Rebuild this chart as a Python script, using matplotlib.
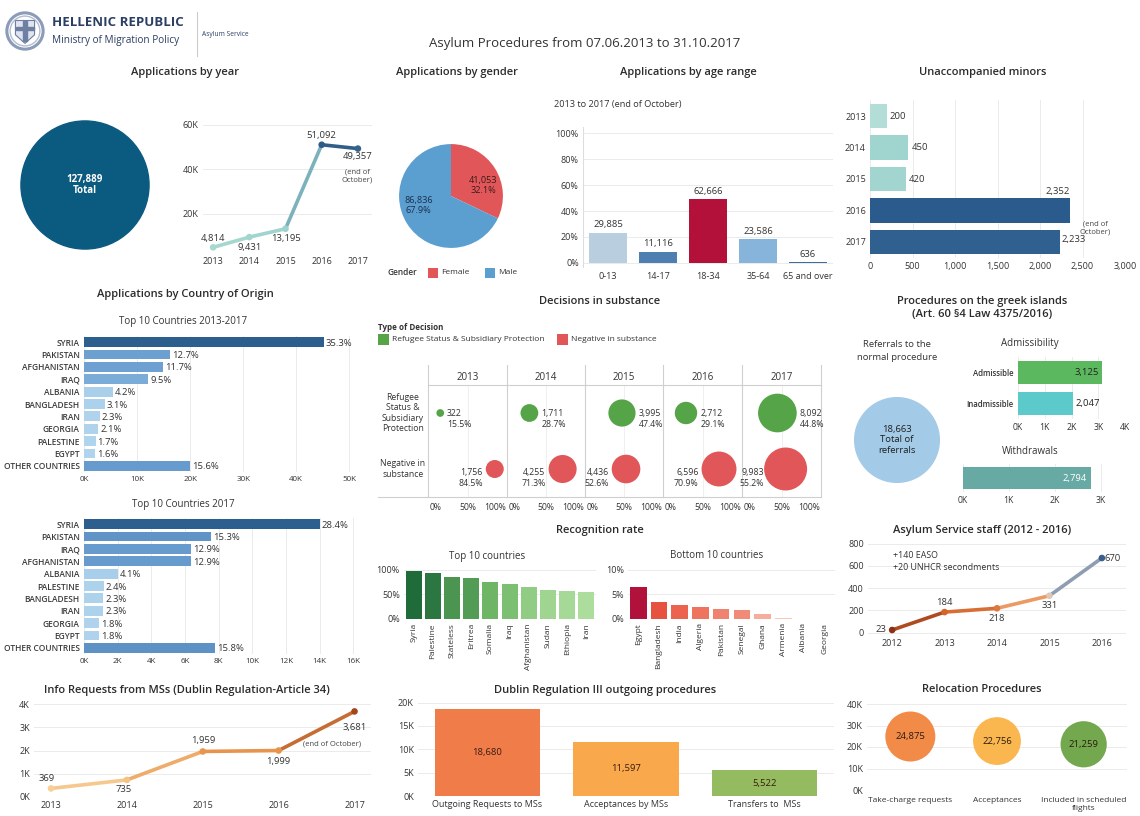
import numpy as np
import matplotlib
matplotlib.use('Agg')
import matplotlib.pyplot as plt
from matplotlib.colors import LinearSegmentedColormap, Normalize
from matplotlib.patches import Circle, Rectangle, Polygon
from matplotlib.lines import Line2D

plt.rcParams['font.family'] = ['Open Sans', 'DejaVu Sans']

# ---------------- DATA ----------------
years = [2013, 2014, 2015, 2016, 2017]
apps_by_year = [4814, 9431, 13195, 51092, 49357]
total_apps = 127889

gender_labels = ['Female', 'Male']
gender_values = [41053, 86836]

age_ranges = ['0-13', '14-17', '18-34', '35-64', '65 and over']
age_values = [29885, 11116, 62666, 23586, 636]

minors_years = ['2013', '2014', '2015', '2016', '2017']
minors_values = [200, 450, 420, 2352, 2233]

countries_all = ['SYRIA', 'PAKISTAN', 'AFGHANISTAN', 'IRAQ', 'ALBANIA', 'BANGLADESH',
                 'IRAN', 'GEORGIA', 'PALESTINE', 'EGYPT', 'OTHER COUNTRIES']
countries_all_pct = [35.3, 12.7, 11.7, 9.5, 4.2, 3.1, 2.3, 2.1, 1.7, 1.6, 15.6]

countries_2017 = ['SYRIA', 'PAKISTAN', 'IRAQ', 'AFGHANISTAN', 'ALBANIA', 'PALESTINE',
                  'BANGLADESH', 'IRAN', 'GEORGIA', 'EGYPT', 'OTHER COUNTRIES']
countries_2017_pct = [28.4, 15.3, 12.9, 12.9, 4.1, 2.4, 2.3, 2.3, 1.8, 1.8, 15.8]
total_2017 = 49357

decision_types = ['Refugee Status & Subsidiary Protection', 'Negative in substance']
dec_positive = [322, 1711, 3995, 2712, 8092]
dec_positive_pct = [15.5, 28.7, 47.4, 29.1, 44.8]
dec_negative = [1756, 4255, 4436, 6596, 9983]
dec_negative_pct = [84.5, 71.3, 52.6, 70.9, 55.2]

referrals_total = 18663
admiss_labels = ['Admissible', 'Inadmissible']
admiss_values = [3125, 2047]
withdrawals = 2794

recog_top_countries = ['Syria', 'Palestine', 'Stateless', 'Eritrea', 'Somalia', 'Iraq',
                       'Afghanistan', 'Sudan', 'Ethiopia', 'Iran']
recog_top = [98.0, 94.5, 86.0, 84.0, 76.0, 71.5, 65.0, 60.0, 58.0, 56.0]
recog_bottom_countries = ['Egypt', 'Bangladesh', 'India', 'Algeria', 'Pakistan', 'Senegal',
                          'Ghana', 'Armenia', 'Albania', 'Georgia']
recog_bottom = [6.6, 3.5, 2.9, 2.5, 2.1, 1.9, 1.0, 0.3, 0.1, 0.02]

staff_years = [2012, 2013, 2014, 2015, 2016]
staff_values = [23, 184, 218, 331, 670]

info_years = [2013, 2014, 2015, 2016, 2017]
info_requests = [369, 735, 1959, 1999, 3681]

dublin_cats = ['Outgoing Requests to MSs', 'Acceptances by MSs', 'Transfers to  MSs']
dublin_values = [18680, 11597, 5522]

reloc_cats = ['Take-charge requests', 'Acceptances', 'Included in scheduled\nflights']
reloc_values = [24875, 22756, 21259]

# ---------------- HELPERS ----------------
W, H = 1140, 816
fig = plt.figure(figsize=(W / 100, H / 100), dpi=100)
fig.patch.set_facecolor('white')
TXT = '#333333'
GRID = '#ebebeb'
PT = 0.72  # points per pixel


def A(x0, y0, x1, y1):
    return fig.add_axes([x0 / W, 1 - y1 / H, (x1 - x0) / W, (y1 - y0) / H])


def T(x, y, s, size=7, ha='center', va='center', color=TXT, **kw):
    fig.text(x / W, 1 - y / H, s, fontsize=size, ha=ha, va=va, color=color, **kw)


def TITLE(x, y, s, size=8):
    T(x, y, s, size=size, weight='semibold', color='#2b2b2b')


def L(x0, y0, x1, y1, color='#cfcfcf', lw=0.8):
    fig.add_artist(Line2D([x0 / W, x1 / W], [1 - y0 / H, 1 - y1 / H],
                          transform=fig.transFigure, color=color, lw=lw))


def R(x, y, w, h, color):
    fig.add_artist(Rectangle((x / W, 1 - (y + h) / H), w / W, h / H,
                             transform=fig.transFigure, color=color, lw=0))


def style(ax, grid='y', size=6.5):
    for s in ax.spines.values():
        s.set_visible(False)
    ax.tick_params(length=0, labelsize=size, colors=TXT, pad=3)
    if grid:
        ax.grid(axis=grid, color=GRID, lw=0.7)
    ax.set_axisbelow(True)


def kfmt(v):
    return f'{int(round(v / 1000))}K'


# ---------------- HEADER ----------------
axe = A(4, 8, 46, 54)
axe.set_xlim(-1.1, 1.1); axe.set_ylim(-1.1, 1.1); axe.set_aspect('equal'); axe.axis('off')
axe.add_patch(Circle((0, 0), 0.95, fill=False, ec='#8b9bb8', lw=2.2))
axe.add_patch(Circle((0, 0), 0.78, fill=False, ec='#b3bdd0', lw=1.0))
axe.add_patch(Polygon([[-0.5, 0.55], [0.5, 0.55], [0.5, -0.2], [0, -0.65], [-0.5, -0.2]],
                      closed=True, fc='#dfe4ee', ec='#6d7fa3', lw=0.8))
axe.add_patch(Rectangle((-0.09, -0.5), 0.18, 1.0, color='#6d7fa3'))
axe.add_patch(Rectangle((-0.45, 0.05), 0.9, 0.16, color='#6d7fa3'))
T(52, 22, 'HELLENIC REPUBLIC', size=9.5, ha='left', weight='bold', color='#2b3e63')
T(52, 40, 'Ministry of Migration Policy', size=7.2, ha='left', color='#2b3e63')
L(197, 12, 197, 56, color='#cccccc', lw=0.8)
T(202, 34, 'Asylum Service', size=4.8, ha='left', color='#2b3e63')
T(585, 44, 'Asylum Procedures from 07.06.2013 to 31.10.2017', size=9.5, color='#333333')

# ---------------- APPLICATIONS BY YEAR ----------------
TITLE(185, 73, 'Applications by year')
axc = A(15, 115, 155, 255)
axc.set_xlim(-1, 1); axc.set_ylim(-1, 1); axc.set_aspect('equal'); axc.axis('off')
axc.add_patch(Circle((0, 0), 0.915, color='#0b5a80'))
axc.text(0, 0, f'{total_apps:,}\nTotal', ha='center', va='center', color='white',
         fontsize=7, weight='bold', linespacing=1.1)

ax = A(203, 122, 372, 253)
style(ax)
xs = np.arange(len(years))
cm_t = LinearSegmentedColormap.from_list('t', ['#a8d9d1', '#8cc6c8', '#2e5b87'])
nm = Normalize(min(apps_by_year), max(apps_by_year))
for i in range(len(xs) - 1):
    ax.plot(xs[i:i + 2], apps_by_year[i:i + 2], color=cm_t(nm((apps_by_year[i] + apps_by_year[i + 1]) / 2)),
            lw=2.6, solid_capstyle='round')
ax.scatter(xs, apps_by_year, s=14, c=[cm_t(nm(v)) for v in apps_by_year], zorder=3)
ax.set_xlim(-0.28, 4.39)
ax.set_ylim(2256, 61353)
ax.set_xticks(xs, [str(y) for y in years])
ax.set_yticks([20000, 40000, 60000], ['20K', '40K', '60K'])
offs = [(0, 9), (0, -10), (0, -10), (0, 9), (0, -8)]
for x, v, (dx, dy) in zip(xs, apps_by_year, offs):
    ax.annotate(f'{v:,}', (x, v), xytext=(dx * PT, dy * PT), textcoords='offset points',
                ha='center', va='center', fontsize=6.8, color=TXT)
T(357, 176, '(end of\nOctober)', size=5.5, color='#444444', linespacing=1.1)

# ---------------- GENDER ----------------
TITLE(457, 73, 'Applications by gender')
axp = A(397, 142, 505, 250)
gcol = ['#e15759', '#5b9fd1']
axp.pie(gender_values, colors=gcol, startangle=90, counterclock=False, radius=1,
        wedgeprops=dict(lw=0))
axp.set_xlim(-1.04, 1.04); axp.set_ylim(-1.04, 1.04); axp.set_aspect('equal')
tot_g = sum(gender_values)
axp.text(0.62, 0.2, f'{gender_values[0]:,}\n{gender_values[0] / tot_g * 100:.1f}%', ha='center',
         va='center', fontsize=6.6, color='#3a1a1a', linespacing=1.15)
axp.text(-0.62, -0.19, f'{gender_values[1]:,}\n{gender_values[1] / tot_g * 100:.1f}%', ha='center',
         va='center', fontsize=6.6, color='#1c2e4a', linespacing=1.15)
T(387, 273, 'Gender', size=6, ha='left', weight='semibold')
R(428, 268, 10, 10, gcol[0]); T(441, 273, gender_labels[0], size=6, ha='left')
R(485, 268, 10, 10, gcol[1]); T(498, 273, gender_labels[1], size=6, ha='left')

# ---------------- AGE RANGE ----------------
TITLE(688, 73, 'Applications by age range')
T(618, 105, '2013 to 2017 (end of October)', size=6.6)
ax = A(583, 127, 833, 268)
style(ax)
tot_age = sum(age_values)
age_pct = [v / tot_age * 100 for v in age_values]
acol = ['#b9cfe0', '#4e7fb0', '#b3103a', '#87b4db', '#3d6d9e']
xa = np.arange(len(age_ranges))
ax.bar(xa, age_pct, width=0.77, color=acol)
for x, p, v in zip(xa, age_pct, age_values):
    ax.text(x, p + 2.5, f'{v:,}', ha='center', va='bottom', fontsize=6.8, color=TXT)
ax.set_xlim(-0.5, 4.5)
ax.set_ylim(-3.9, 104.7)
ax.set_xticks(xa, age_ranges)
ax.set_yticks([0, 20, 40, 60, 80, 100], [f'{t}%' for t in [0, 20, 40, 60, 80, 100]])
ax.axvline(-0.5, color='#dddddd', lw=0.8)

# ---------------- UNACCOMPANIED MINORS ----------------
TITLE(983, 73, 'Unaccompanied minors')
ax = A(870, 100, 1125, 258)
style(ax, grid='x')
cm_m = LinearSegmentedColormap.from_list('m', [(0, '#c1e5df'), (0.2, '#9ed3ce'),
                                               (0.6, '#4f86ad'), (1, '#2b5b8c')])
ym = np.arange(len(minors_years))
ax.barh(ym, minors_values, height=0.79, color=[cm_m(v / max(minors_values)) for v in minors_values])
ax.set_ylim(4.51, -0.51)
ax.set_xlim(0, 3000)
ax.set_yticks(ym, minors_years)
ax.set_xticks(range(0, 3001, 500), [f'{t:,}' for t in range(0, 3001, 500)])
for y, v in zip(ym[:3], minors_values[:3]):
    ax.annotate(f'{v:,}', (v, y), xytext=(3 * PT, 0), textcoords='offset points',
                ha='left', va='center', fontsize=6.8, color=TXT)
ax.annotate(f'{minors_values[3]:,}', (minors_values[3], 3), xytext=(-12 * PT, 19 * PT),
            textcoords='offset points', ha='center', va='center', fontsize=6.8, color=TXT)
ax.annotate(f'{minors_values[4]:,}', (minors_values[4], 4), xytext=(2 * PT, 2 * PT),
            textcoords='offset points', ha='left', va='center', fontsize=6.8, color=TXT)
T(1095, 228, '(end of\nOctober)', size=5.5, color='#444444', linespacing=1.1)

# ---------------- COUNTRY OF ORIGIN ----------------
cm_c = LinearSegmentedColormap.from_list('c', [(0, '#b5d7ef'), (0.15, '#a6cdea'), (0.3, '#6fa3d3'),
                                               (0.5, '#6598cb'), (1, '#2d5f8e')])


def country_chart(box, names, pct, total, xmax, step, title_y, title):
    T(183, title_y, title, size=7)
    ax = A(*box)
    style(ax, grid='x')
    vals = [p / 100 * total for p in pct]
    yy = np.arange(len(names))
    ax.barh(yy, vals, height=0.8, color=[cm_c(v / max(vals)) for v in vals])
    ax.set_ylim(len(names) - 0.5, -0.5)
    ax.set_xlim(0, xmax)
    ax.set_yticks(yy, names)
    for lab in ax.get_yticklabels():
        lab.set_fontsize(6.0); lab.set_weight('semibold'); lab.set_color('#3a3a3a')
    ticks = np.arange(0, xmax, step)
    ax.set_xticks(ticks, [kfmt(t) for t in ticks])
    ax.tick_params(axis='x', labelsize=5.8)
    for y, v, p in zip(yy, vals, pct):
        ax.annotate(f'{p:.1f}%', (v, y), xytext=(2 * PT, -1 * PT), textcoords='offset points',
                    ha='left', va='center', fontsize=6.8, color=TXT)


TITLE(185, 294, 'Applications by Country of Origin')
country_chart((84, 336, 360, 472), countries_all, countries_all_pct, total_apps, 52000, 10000,
              322, 'Top 10 Countries 2013-2017')
country_chart((84, 518, 365, 654), countries_2017, countries_2017_pct, total_2017, 16700, 2000,
              504, 'Top 10 Countries 2017')

# ---------------- DECISIONS IN SUBSTANCE ----------------
TITLE(600, 301, 'Decisions in substance')
T(378, 327, 'Type of Decision', size=5.8, ha='left', weight='bold')
dcol = ['#55a548', '#e15759']
R(378, 334, 11, 11, dcol[0]); T(392, 339, decision_types[0], size=6, ha='left')
R(557, 334, 11, 11, dcol[1]); T(571, 339, decision_types[1], size=6, ha='left')
edges = [428, 507, 585, 663, 742, 821]
for e in edges:
    L(e, 365, e, 497)
L(428, 385, 821, 385)
L(378, 497, 821, 497)
T(403, 413, 'Refugee\nStatus &\nSubsidiary\nProtection', size=6.2, linespacing=1.15)
T(403, 469, 'Negative in\nsubstance', size=6.2, linespacing=1.15)
K = 0.43  # bubble diameter px per sqrt(value)
for i, yr in enumerate(years):
    x0, x1 = edges[i], edges[i + 1]
    T((x0 + x1) / 2, 377, str(yr), size=7)
    ax = A(x0, 385, x1, 497)
    ax.set_xlim(0, 1); ax.set_ylim(1.5, -0.5)
    ax.axis('off')
    ax.axvline(0.5, color='#efefef', lw=0.7, zorder=0)
    ax.scatter([dec_positive_pct[i] / 100, dec_negative_pct[i] / 100], [0, 1],
               s=[(K * PT) ** 2 * dec_positive[i], (K * PT) ** 2 * dec_negative[i]],
               color=dcol, lw=0, zorder=2)
    # labels (pixel logic)
    pw = x1 - x0
    cxg = x0 + dec_positive_pct[i] / 100 * pw
    rg = K * np.sqrt(dec_positive[i]) / 2
    T(cxg + rg + 3, 419, f'{dec_positive[i]:,}\n{dec_positive_pct[i]:.1f}%', size=6.3,
      ha='left', linespacing=1.2)
    cxr = x0 + dec_negative_pct[i] / 100 * pw
    rr = K * np.sqrt(dec_negative[i]) / 2
    xr = max(cxr - rr - 3, x0 + 22)
    T(xr, 478, f'{dec_negative[i]:,}\n{dec_negative_pct[i]:.1f}%', size=6.3, ha='right',
      linespacing=1.2)
    T(x0 + 2, 508, '0%', size=6.2, ha='left')
    T((x0 + x1) / 2, 508, '50%', size=6.2)
    T(x1 - 1, 508, '100%', size=6.2, ha='right')

# ---------------- GREEK ISLANDS ----------------
TITLE(982, 308, 'Procedures on the greek islands\n(Art. 60 §4 Law 4375/2016)')
T(897, 351, 'Referrals to the\nnormal procedure', size=6.8, linespacing=1.5)
axr = A(851, 394, 943, 486)
axr.set_xlim(-1, 1); axr.set_ylim(-1, 1); axr.set_aspect('equal'); axr.axis('off')
axr.add_patch(Circle((0, 0), 0.92, color='#a3cbe8'))
axr.text(0, 0, f'{referrals_total:,}\nTotal of\nreferrals', ha='center', va='center',
         fontsize=6.8, color='#1e1e1e', linespacing=1.15)

T(1030, 343, 'Admissibility', size=7)
ax = A(1018, 357, 1125, 419)
style(ax, grid='x', size=6.2)
acol2 = ['#5cb85f', '#5ccaca']
ya = np.arange(len(admiss_labels))
ax.barh(ya, admiss_values, height=0.74, color=acol2)
ax.set_ylim(1.5, -0.5); ax.set_xlim(0, 4000)
ax.set_yticks(ya, admiss_labels)
for lab in ax.get_yticklabels():
    lab.set_fontsize(5.6); lab.set_weight('semibold')
ax.set_xticks(range(0, 4001, 1000), [kfmt(t) for t in range(0, 4001, 1000)])
ax.annotate(f'{admiss_values[0]:,}', (admiss_values[0], 0), xytext=(-3 * PT, 0),
            textcoords='offset points', ha='right', va='center', fontsize=6.8, color='#222222')
ax.annotate(f'{admiss_values[1]:,}', (admiss_values[1], 1), xytext=(3 * PT, 0),
            textcoords='offset points', ha='left', va='center', fontsize=6.8, color='#222222')

T(1030, 452, 'Withdrawals', size=7)
ax = A(963, 464, 1128, 492)
style(ax, grid='x', size=6.2)
ax.barh([0], [withdrawals], height=0.79, color='#67aaa3')
ax.set_ylim(-0.5, 0.5); ax.set_xlim(0, 3600)
ax.set_yticks([])
ax.set_xticks(range(0, 3001, 1000), [kfmt(t) for t in range(0, 3001, 1000)])
ax.annotate(f'{withdrawals:,}', (withdrawals, 0), xytext=(-4 * PT, 0), textcoords='offset points',
            ha='right', va='center', fontsize=6.8, color='white')

# ---------------- RECOGNITION RATE ----------------
TITLE(600, 531, 'Recognition rate')
T(487, 556, 'Top 10 countries', size=7)
T(717, 556, 'Bottom 10 countries', size=7)
cm_g = LinearSegmentedColormap.from_list('g', ['#acdd9c', '#6bb463', '#1f6b3a'])
ax = A(404, 568, 596, 619)
style(ax)
xr_ = np.arange(len(recog_top))
ng = Normalize(min(recog_top), max(recog_top))
ax.bar(xr_, recog_top, width=0.83, color=[cm_g(ng(v)) for v in recog_top])
ax.set_xlim(-0.5, 9.5); ax.set_ylim(0, 104)
ax.set_yticks([0, 50, 100], ['0%', '50%', '100%'])
ax.set_xticks(xr_, recog_top_countries, rotation=90)
ax.tick_params(axis='x', labelsize=6.0)

cm_r = LinearSegmentedColormap.from_list('r', [(0, '#fbd3c2'), (0.5, '#ea5540'), (1, '#b0123b')])
ax = A(628, 568, 835, 619)
style(ax)
nr = Normalize(0, max(recog_bottom))
ax.bar(xr_, recog_bottom, width=0.8, color=[cm_r(nr(v)) for v in recog_bottom])
ax.set_xlim(-0.5, 9.5); ax.set_ylim(0, 10.4)
ax.set_yticks([0, 5, 10], ['0%', '5%', '10%'])
ax.set_xticks(xr_, recog_bottom_countries, rotation=90)
ax.tick_params(axis='x', labelsize=6.0)

# ---------------- STAFF ----------------
TITLE(982, 530, 'Asylum Service staff (2012 - 2016)')
ax = A(868, 543, 1126, 635)
style(ax)
cm_s = LinearSegmentedColormap.from_list('s', [(0, '#8c3214'), (0.25, '#d4652a'), (0.4, '#ee9f68'),
                                               (0.5, '#d8d6d3'), (1, '#3b5e8c')])
ns = Normalize(min(staff_values), max(staff_values))
for i in range(len(staff_years) - 1):
    ax.plot(staff_years[i:i + 2], staff_values[i:i + 2],
            color=cm_s(ns((staff_values[i] + staff_values[i + 1]) / 2)), lw=2.6,
            solid_capstyle='round')
ax.scatter(staff_years, staff_values, s=14, c=[cm_s(ns(v)) for v in staff_values], zorder=3)
ax.set_xlim(2011.54, 2016.46); ax.set_ylim(-22, 805)
ax.set_xticks(staff_years, [str(y) for y in staff_years])
ax.set_yticks(range(0, 801, 200))
soffs = [(-11, 0, 'right'), (0, 10, 'center'), (0, -10, 'center'), (0, -10, 'center'), (3, 0, 'left')]
for x, v, (dx, dy, ha) in zip(staff_years, staff_values, soffs):
    ax.annotate(f'{v:,}', (x, v), xytext=(dx * PT, dy * PT), textcoords='offset points',
                ha=ha if ha != 'right' else 'center', va='center', fontsize=6.8, color=TXT)
T(893, 555, '+140 EASO', size=6.4, ha='left')
T(893, 567, '+20 UNHCR secondments', size=6.4, ha='left')

# ---------------- INFO REQUESTS ----------------
TITLE(187, 690, 'Info Requests from MSs (Dublin Regulation-Article 34)')
ax = A(34, 704, 371, 797)
style(ax)
cm_o = LinearSegmentedColormap.from_list('o', ['#f8cf96', '#e8924a', '#a3461c'])
no = Normalize(min(info_requests), max(info_requests))
for i in range(len(info_years) - 1):
    ax.plot(info_years[i:i + 2], info_requests[i:i + 2],
            color=cm_o(no((info_requests[i] + info_requests[i + 1]) / 2)), lw=2.6,
            solid_capstyle='round')
ax.scatter(info_years, info_requests, s=14, c=[cm_o(no(v)) for v in info_requests], zorder=3)
ax.set_xlim(2012.776, 2017.217); ax.set_ylim(0, 4000)
ax.set_xticks(info_years, [str(y) for y in info_years])
ax.set_yticks(range(0, 4001, 1000), [kfmt(t) for t in range(0, 4001, 1000)])
ioffs = [(-4, 10), (-3, -10), (0, 11), (0, -11), (0, -16)]
for x, v, (dx, dy) in zip(info_years, info_requests, ioffs):
    ax.annotate(f'{v:,}', (x, v), xytext=(dx * PT, dy * PT), textcoords='offset points',
                ha='center', va='center', fontsize=6.8, color=TXT)
T(332, 744, '(end of October)', size=5.5, color='#444444')

# ---------------- DUBLIN ----------------
TITLE(605, 690, 'Dublin Regulation III outgoing procedures')
ax = A(418, 702, 834, 796)
style(ax)
bcol = ['#f07c4a', '#f9a84c', '#94bb5f']
xd = np.arange(len(dublin_cats))
ax.bar(xd, dublin_values, width=0.76, color=bcol)
ax.set_xlim(-0.5, 2.5); ax.set_ylim(0, 20130)
ax.set_xticks(xd, dublin_cats)
ax.set_yticks(range(0, 20001, 5000), [kfmt(t) for t in range(0, 20001, 5000)])
for x, v in zip(xd, dublin_values):
    ax.text(x, v / 2, f'{v:,}', ha='center', va='center', fontsize=6.8, color='#3a1c10')

# ---------------- RELOCATION ----------------
TITLE(982, 690, 'Relocation Procedures')
ax = A(867, 704, 1127, 790)
style(ax)
rcol = ['#f28a48', '#fbb74f', '#73a84f']
xrl = np.arange(len(reloc_cats))
ax.scatter(xrl, reloc_values, s=[0.0521 * v for v in reloc_values], color=rcol, lw=0)
ax.set_xlim(-0.5, 2.5); ax.set_ylim(0, 40000)
ax.set_xticks(xrl, reloc_cats)
ax.tick_params(axis='x', labelsize=6.0, pad=5)
ax.set_yticks(range(0, 40001, 10000), [kfmt(t) for t in range(0, 40001, 10000)])
for x, v in zip(xrl, reloc_values):
    ax.text(x, v, f'{v:,}', ha='center', va='center', fontsize=6.8, color='#2a1a10')

fig.savefig('out.png', dpi=100, facecolor='white')
